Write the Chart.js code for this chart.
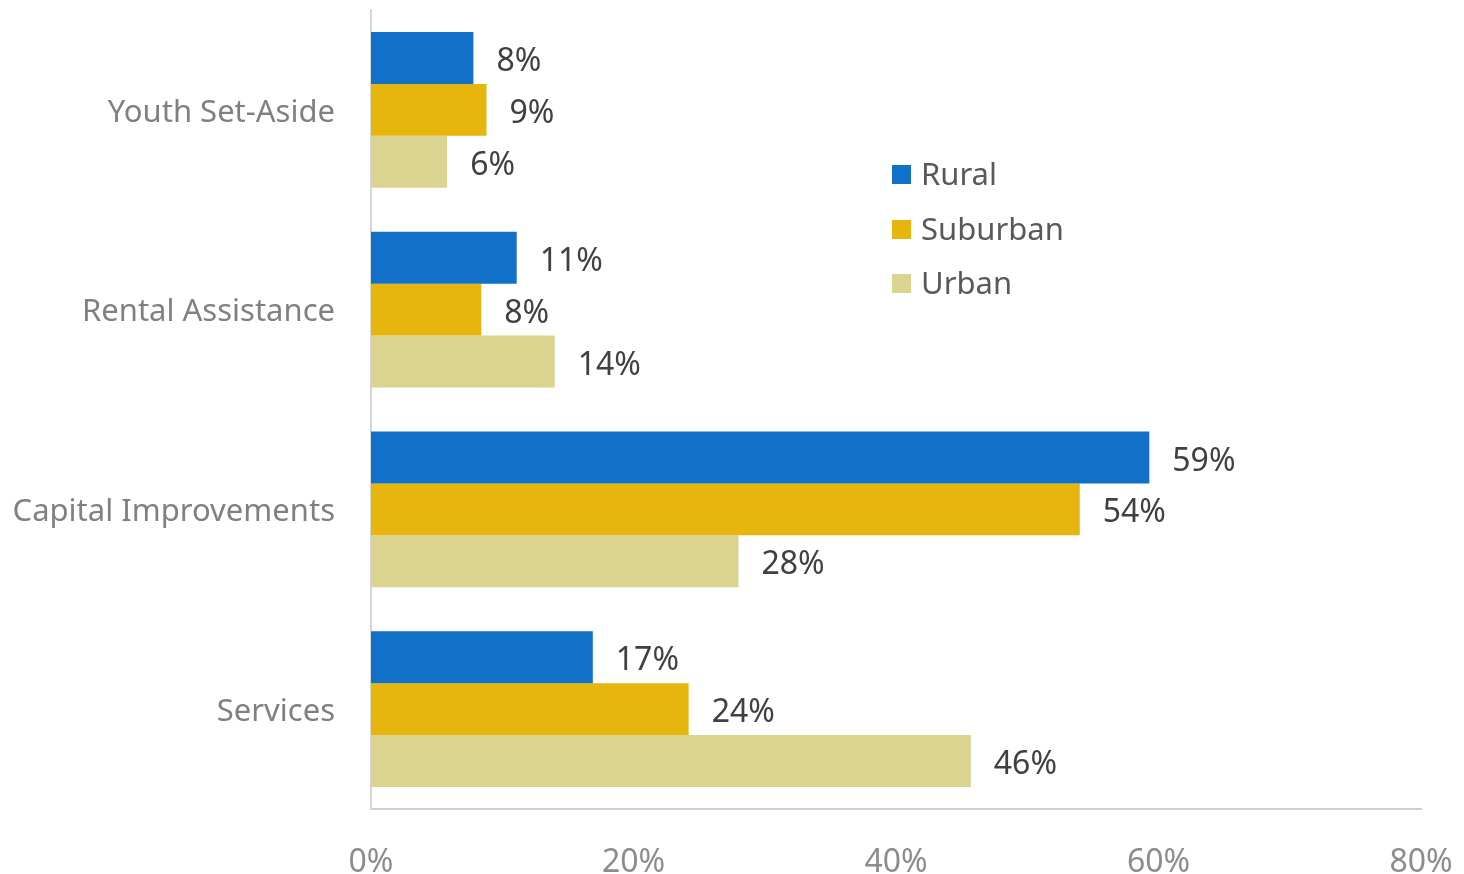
<!DOCTYPE html>
<html lang="en">
<head>
    <meta charset="UTF-8">
    <title>Funding Use by Area</title>
    <script src="https://cdn.jsdelivr.net/npm/chart.js"></script>
    <style>
        body {
            margin: 0;
            padding: 0;
            background: #fff;
            font-family: "Noto Sans", sans-serif;
        }

        .wrap {
            position: relative;
            width: 1464px;
            height: 874px;
        }

        .legend {
            position: absolute;
            left: 892px;
            top: 151px;
            list-style: none;
            margin: 0;
            padding: 0;
        }

        .legend li {
            height: 54.5px;
            line-height: 44px;
            font-size: 31px;
            color: #595959;
            white-space: nowrap;
        }

        .legend span {
            display: inline-block;
            width: 19px;
            height: 19px;
            margin-right: 10px;
            vertical-align: 1px;
        }
    </style>
</head>
<body>

    <div class="wrap">
        <canvas id="chart" width="1464" height="874"></canvas>
        <ul id="legend" class="legend"></ul>
    </div>

    <script>
        const categories = ['Youth Set-Aside', 'Rental Assistance', 'Capital Improvements', 'Services'];
        const rural = [7.8, 11.1, 59.3, 16.9];
        const suburban = [8.8, 8.4, 54.0, 24.2];
        const urban = [5.8, 14.0, 28.0, 45.7];
        const seriesNames = ['Rural', 'Suburban', 'Urban'];
        const seriesColors = ['#1170c8', '#e6b50e', '#dbd490'];

        // draws the "59%" labels to the right of each bar
        const valueLabels = {
            id: 'valueLabels',
            afterDatasetsDraw(chart) {
                const ctx = chart.ctx;
                ctx.save();
                ctx.font = '32px "Noto Sans", sans-serif';
                ctx.fillStyle = '#404040';
                ctx.textBaseline = 'middle';
                ctx.textAlign = 'left';
                chart.data.datasets.forEach((ds, i) => {
                    chart.getDatasetMeta(i).data.forEach((bar, j) => {
                        ctx.fillText(Math.round(ds.data[j]) + '%', bar.x + 23, bar.y + 4);
                    });
                });
                ctx.restore();
            }
        };

        const ctx = document.getElementById('chart').getContext('2d');
        const chart = new Chart(ctx, {
            type: 'bar',
            data: {
                labels: categories,
                datasets: [rural, suburban, urban].map((d, i) => ({
                    label: seriesNames[i],
                    data: d,
                    backgroundColor: seriesColors[i],
                    categoryPercentage: 0.78,
                    barPercentage: 1.0
                }))
            },
            options: {
                indexAxis: 'y',
                responsive: false,
                animation: false,
                layout: {
                    padding: { top: 10, right: 43, left: 0, bottom: 0 }
                },
                scales: {
                    x: {
                        min: 0,
                        max: 80,
                        ticks: {
                            stepSize: 20,
                            padding: 35,
                            maxRotation: 0,
                            color: '#8c8c8c',
                            font: { size: 32, family: '"Noto Sans", sans-serif' },
                            callback: v => v + '%'
                        },
                        grid: { display: false, drawTicks: false },
                        border: { color: '#cfcfcf', width: 2 },
                        afterFit: s => {
                            s.height = 65;
                            s.paddingLeft = 0;
                            s.paddingRight = 0;
                        }
                    },
                    y: {
                        ticks: {
                            padding: 36,
                            labelOffset: 3,
                            color: '#808080',
                            font: { size: 31, family: '"Noto Sans", sans-serif' }
                        },
                        grid: { display: false, drawTicks: false },
                        border: { color: '#d6d6d6', width: 2 },
                        afterFit: s => {
                            s.width = 371;
                            s.paddingTop = 0;
                            s.paddingBottom = 0;
                        }
                    }
                },
                plugins: {
                    legend: { display: false },
                    tooltip: { enabled: false }
                }
            },
            plugins: [valueLabels]
        });

        // custom legend, placed inside the plot like the original
        document.getElementById('legend').innerHTML = seriesNames.map((name, i) =>
            `<li><span style="background:${seriesColors[i]}"></span>${name}</li>`
        ).join('');
    </script>

</body>
</html>
